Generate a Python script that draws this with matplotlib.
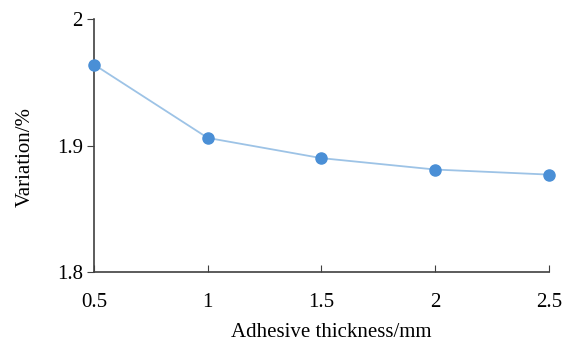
import matplotlib
matplotlib.use('Agg')
import matplotlib.pyplot as plt

thickness = [0.5, 1.0, 1.5, 2.0, 2.5]
variation = [1.964, 1.906, 1.890, 1.881, 1.877]
xticks = [0.5, 1, 1.5, 2, 2.5]
xtick_labels = ['0.5', '1', '1.5', '2', '2.5']
yticks = [1.8, 1.9, 2.0]
ytick_labels = ['1.8', '1.9', '2']

plt.rcParams['font.family'] = ['Liberation Serif', 'DejaVu Serif']

fig = plt.figure(figsize=(5.68, 3.42), dpi=100)
ax = fig.add_axes([0.1655, 0.2047, 0.801, 0.7397])

ax.plot(thickness, variation, color='#9dc3e6', linewidth=1.3, zorder=2)
ax.plot(thickness, variation, 'o', color='#4a8fd6', markersize=8, zorder=3, clip_on=False)

ax.set_xlim(0.5, 2.5)
ax.set_ylim(1.8, 2.0)
ax.set_xticks(xticks)
ax.set_xticklabels(xtick_labels)
ax.set_yticks(yticks)
ax.set_yticklabels(ytick_labels)

for s in ['top', 'right']:
    ax.spines[s].set_visible(False)
for s in ['left', 'bottom']:
    ax.spines[s].set_color('#404040')
    ax.spines[s].set_linewidth(1.2)

ax.tick_params(axis='x', direction='in', length=5, color='#404040', labelsize=15, pad=15)
ax.tick_params(axis='y', direction='out', length=5, color='#404040', labelsize=15, pad=3)

ax.set_xlabel('Adhesive thickness/mm', fontsize=15)
ax.xaxis.set_label_coords(0.521, -0.202)
ax.set_ylabel('Variation/%', fontsize=15)
ax.yaxis.set_label_coords(-0.13, 0.4545)

fig.savefig('out.png', dpi=100)
